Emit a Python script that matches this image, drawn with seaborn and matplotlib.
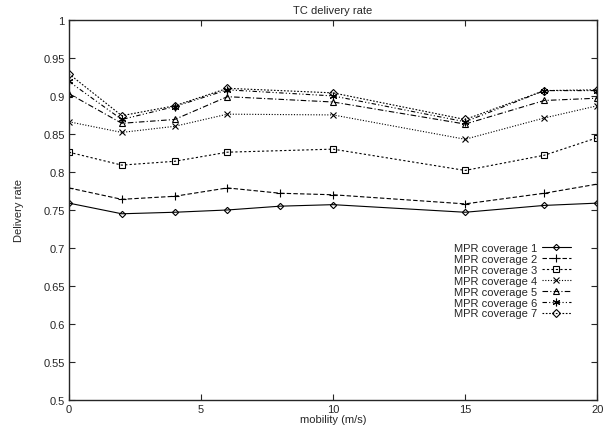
import matplotlib
matplotlib.use("Agg")
import matplotlib.pyplot as plt
import pandas as pd
import seaborn as sns

mobility = [0, 2, 4, 6, 8, 10, 15, 18, 20]
mobility_short = [0, 2, 4, 6, 10, 15, 18, 20]

cov1 = [0.759, 0.745, 0.747, 0.750, 0.755, 0.757, 0.747, 0.756, 0.759]
cov2 = [0.779, 0.764, 0.768, 0.779, 0.772, 0.770, 0.758, 0.772, 0.784]
cov3 = [0.826, 0.809, 0.814, 0.826, 0.830, 0.802, 0.822, 0.845]
cov4 = [0.866, 0.852, 0.860, 0.876, 0.875, 0.843, 0.871, 0.887]
cov5 = [0.903, 0.864, 0.869, 0.899, 0.892, 0.863, 0.894, 0.897]
cov6 = [0.919, 0.869, 0.886, 0.908, 0.900, 0.866, 0.907, 0.907]
cov7 = [0.929, 0.874, 0.887, 0.910, 0.904, 0.869, 0.907, 0.908]

labels = [f"MPR coverage {i}" for i in range(1, 8)]
series = [
    (mobility, cov1), (mobility, cov2), (mobility_short, cov3),
    (mobility_short, cov4), (mobility_short, cov5), (mobility_short, cov6),
    (mobility_short, cov7),
]

styles = [
    dict(linestyle="-", marker="D", markersize=3.2),
    dict(linestyle=(0, (4, 2)), marker="+", markersize=5.5),
    dict(linestyle=(0, (2, 2)), marker="s", markersize=4.5),
    dict(linestyle=(0, (1, 1.5)), marker="x", markersize=4.5),
    dict(linestyle=(0, (5, 2, 1, 2)), marker="^", markersize=4.5),
    dict(linestyle=(0, (4, 2, 1, 2, 1, 2)), marker=(6, 2, 0), markersize=5.5),
    dict(linestyle=(0, (1.5, 1.5)), marker="D", markersize=4),
]

sns.set_style("ticks")
plt.rcParams["font.family"] = ["Liberation Sans", "DejaVu Sans"]

fig, ax = plt.subplots(figsize=(6.1, 4.35), dpi=100)
fig.subplots_adjust(left=0.113, right=0.979, top=0.952, bottom=0.078)

for label, (xs, ys), st in zip(labels, series, styles):
    df = pd.DataFrame({"mobility": xs, "rate": ys})
    sns.lineplot(data=df, x="mobility", y="rate", ax=ax, color="black",
                 linewidth=0.8, markerfacecolor="none", markeredgecolor="black",
                 markeredgewidth=0.8, label=label, estimator=None, sort=False, **st)

ax.set_xlim(0, 20)
ax.set_ylim(0.5, 1)
ax.set_xticks([0, 5, 10, 15, 20])
ax.set_yticks([0.5, 0.55, 0.6, 0.65, 0.7, 0.75, 0.8, 0.85, 0.9, 0.95, 1])
ax.set_yticklabels(["0.5", "0.55", "0.6", "0.65", "0.7", "0.75", "0.8",
                    "0.85", "0.9", "0.95", "1"])
ax.tick_params(direction="in", top=True, right=True, length=4, width=0.8,
               labelsize=8, pad=3)
for spine in ax.spines.values():
    spine.set_linewidth(1.0)
    spine.set_visible(True)

ax.set_title("TC delivery rate", fontsize=8, pad=5)
ax.set_xlabel("mobility (m/s)", fontsize=8, labelpad=0)
ax.set_ylabel("Delivery rate", fontsize=8, labelpad=14)

ax.legend(loc="lower right", bbox_to_anchor=(0.96, 0.2), frameon=False,
          markerfirst=False, fontsize=8, handlelength=2.6, labelspacing=0.08,
          handletextpad=0.4, borderpad=0)

fig.savefig("out.png", dpi=100)
